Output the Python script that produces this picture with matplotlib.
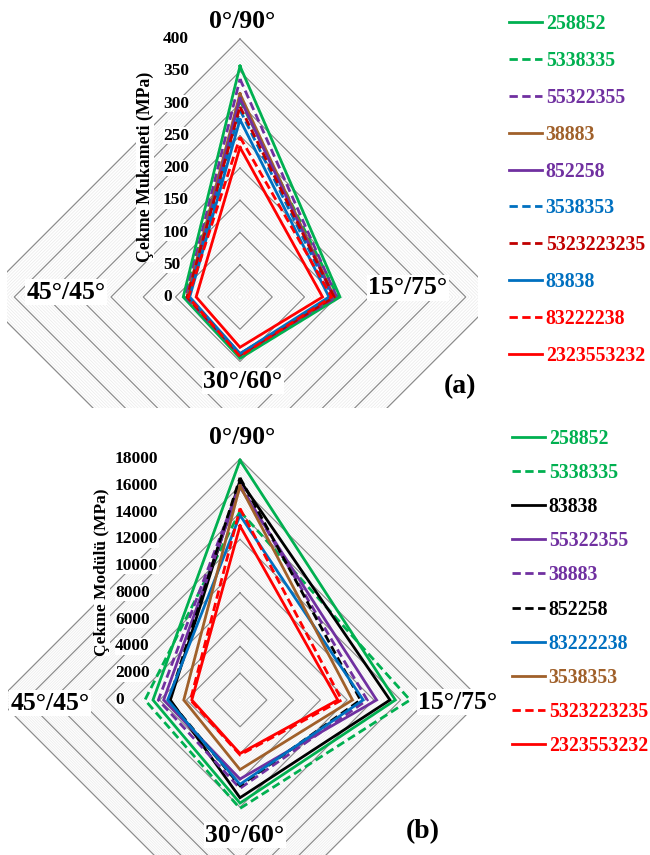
import numpy as np
import matplotlib
matplotlib.use("Agg")
import matplotlib.pyplot as plt
from matplotlib.patches import Rectangle
from matplotlib.transforms import ScaledTranslation

plt.rcParams['font.family'] = ['Liberation Serif', 'DejaVu Serif']
plt.rcParams['font.weight'] = 'bold'

# ---------------- data ----------------
categories = ['0°/90°', '15°/75°', '30°/60°', '45°/45°']

# (a) Çekme Mukameti (MPa)
labels_a = ['258852', '5338335', '55322355', '38883', '852258',
            '3538353', '5323223235', '83838', '83222238', '2323553232']
a_0_90 = [358, 305, 338, 315, 308, 290, 295, 275, 248, 232]
a_15_75 = [155, 152, 150, 146, 145, 143, 146, 138, 142, 128]
a_30_60 = [95, 93, 90, 88, 88, 90, 90, 88, 92, 78]
a_45_45 = [88, 86, 84, 82, 80, 80, 82, 78, 80, 68]
ticks_a = [0, 50, 100, 150, 200, 250, 300, 350, 400]

# (b) Çekme Modülü (MPa)
labels_b = ['258852', '5338335', '83838', '55322355', '38883',
            '852258', '83222238', '3538353', '5323223235', '2323553232']
b_0_90 = [17900, 14100, 16400, 15900, 16100, 16600, 13800, 16000, 14300, 13000]
b_15_75 = [11600, 12700, 11200, 10200, 9500, 9000, 9200, 8400, 7600, 7300]
b_30_60 = [7700, 8100, 7300, 5900, 6600, 6400, 6300, 5200, 4100, 4000]
b_45_45 = [6500, 7100, 5200, 5700, 6100, 5300, 5400, 4200, 3700, 3600]
ticks_b = [0, 2000, 4000, 6000, 8000, 10000, 12000, 14000, 16000, 18000]

# ---------------- styles ----------------
GREEN, PURPLE, BROWN, BLUE, DRED, RED, BLACK = (
    '#00B050', '#7030A0', '#A0602A', '#0070C0', '#C00000', '#FF0000', '#000000')
colors_a = [GREEN, GREEN, PURPLE, BROWN, PURPLE, BLUE, DRED, BLUE, RED, RED]
dashed_a = [False, True, True, False, False, True, True, False, True, False]
colors_b = [GREEN, GREEN, BLACK, PURPLE, PURPLE, BLACK, BLUE, BROWN, RED, RED]
dashed_b = [False, True, False, False, True, True, False, False, True, False]

W, H = 650, 855
fig = plt.figure(figsize=(6.5, 8.55), dpi=100)


def fx(x):
    return x / W


def fy(y):
    return 1 - y / H


def radar(cx, cy, R, rmax, major, minor, clip_box, ticks, tick_dx,
          v0, v1, v2, v3, labels, colors, dashed):
    ax = fig.add_axes([(cx - R) / W, (H - cy - R) / H, 2 * R / W, 2 * R / H],
                      projection='polar')
    ax.set_theta_zero_location('N')
    ax.set_theta_direction(-1)
    ax.set_ylim(0, rmax)
    ax.set_axis_off()
    x0, y0, x1, y1 = clip_box
    clip = Rectangle((fx(x0), fy(y1)), (x1 - x0) / W, (y1 - y0) / H,
                     transform=fig.transFigure)
    theta = np.arange(len(categories) + 1) * 2 * np.pi / len(categories)
    nmin = int(round(rmax / minor))
    for k in range(1, nmin + 1):
        r = k * minor
        is_major = (k * minor) % major == 0
        ln, = ax.plot(theta, [r] * len(theta),
                      color='#8C8C8C' if is_major else '#EAEAEA',
                      lw=0.9 if is_major else 0.5, zorder=1 if is_major else 0.5)
        ln.set_clip_path(clip)
    handles = []
    for i in range(len(labels)):
        vals = [v0[i], v1[i], v2[i], v3[i]]
        vals = vals + vals[:1]
        ln, = ax.plot(theta, vals, color=colors[i], lw=2.0, zorder=3,
                      solid_joinstyle='miter', dash_joinstyle='miter',
                      label=labels[i])
        if dashed[i]:
            ln.set_dashes((3.0, 1.6))
        ln.set_clip_path(clip)
        handles.append(ln)
    off = ScaledTranslation(tick_dx / 100, 0, fig.dpi_scale_trans)
    for t in ticks:
        ax.text(0, t, f'{t}', transform=ax.transData + off, ha='left',
                va='center', fontsize=12.5, zorder=5,
                bbox=dict(facecolor='white', edgecolor='none', pad=0.3))
    return ax, handles


# ---------- (a) ----------
ax_a, h_a = radar(240, 297, 258, 400, 50, 5, (7, 0, 478, 408), ticks_a, -77,
                  a_0_90, a_15_75, a_30_60, a_45_45, labels_a, colors_a, dashed_a)
# ---------- (b) ----------
ax_b, h_b = radar(240, 700, 241, 18000, 2000, 200, (8, 430, 478, 855), ticks_b, -125,
                  b_0_90, b_15_75, b_30_60, b_45_45, labels_b, colors_b, dashed_b)

box = dict(facecolor='white', edgecolor='none', pad=1.0)
cat_pos_a = [(242, 22), (408, 288), (243, 381), (66, 292)]
cat_pos_b = [(242, 437), (458, 702), (245, 835), (50, 703)]
for (x, y), c in zip(cat_pos_a, categories):
    fig.text(fx(x), fy(y), c, ha='center', va='center', fontsize=18.5, bbox=box, zorder=10)
for (x, y), c in zip(cat_pos_b, categories):
    fig.text(fx(x), fy(y), c, ha='center', va='center', fontsize=18.5, bbox=box, zorder=10)

fig.text(fx(460), fy(387), '(a)', ha='center', va='center', fontsize=20, bbox=box, zorder=10)
fig.text(fx(423), fy(832), '(b)', ha='center', va='center', fontsize=20, bbox=box, zorder=10)

fig.text(fx(145), fy(167), 'Çekme Mukameti (MPa)', rotation=90, ha='center',
         va='center', fontsize=12.8, bbox=dict(facecolor='white', edgecolor='none', pad=0.3), zorder=10)
fig.text(fx(102), fy(572), 'Çekme Modülü (MPa)', rotation=90, ha='center',
         va='center', fontsize=12.5, bbox=dict(facecolor='white', edgecolor='none', pad=0.3), zorder=10)

prop = dict(family='Liberation Serif', weight='bold', size=14.3)
fig.legend(handles=h_a, labels=labels_a, loc='upper left',
           bbox_to_anchor=(fx(509), fy(14)), frameon=False, prop=prop,
           handlelength=1.65, handletextpad=0.2, labelspacing=0.85,
           borderpad=0, borderaxespad=0, labelcolor='linecolor')
fig.legend(handles=h_b, labels=labels_b, loc='upper left',
           bbox_to_anchor=(fx(512), fy(429)), frameon=False, prop=prop,
           handlelength=1.65, handletextpad=0.2, labelspacing=0.71,
           borderpad=0, borderaxespad=0, labelcolor='linecolor')

fig.savefig('out.png', dpi=100)
